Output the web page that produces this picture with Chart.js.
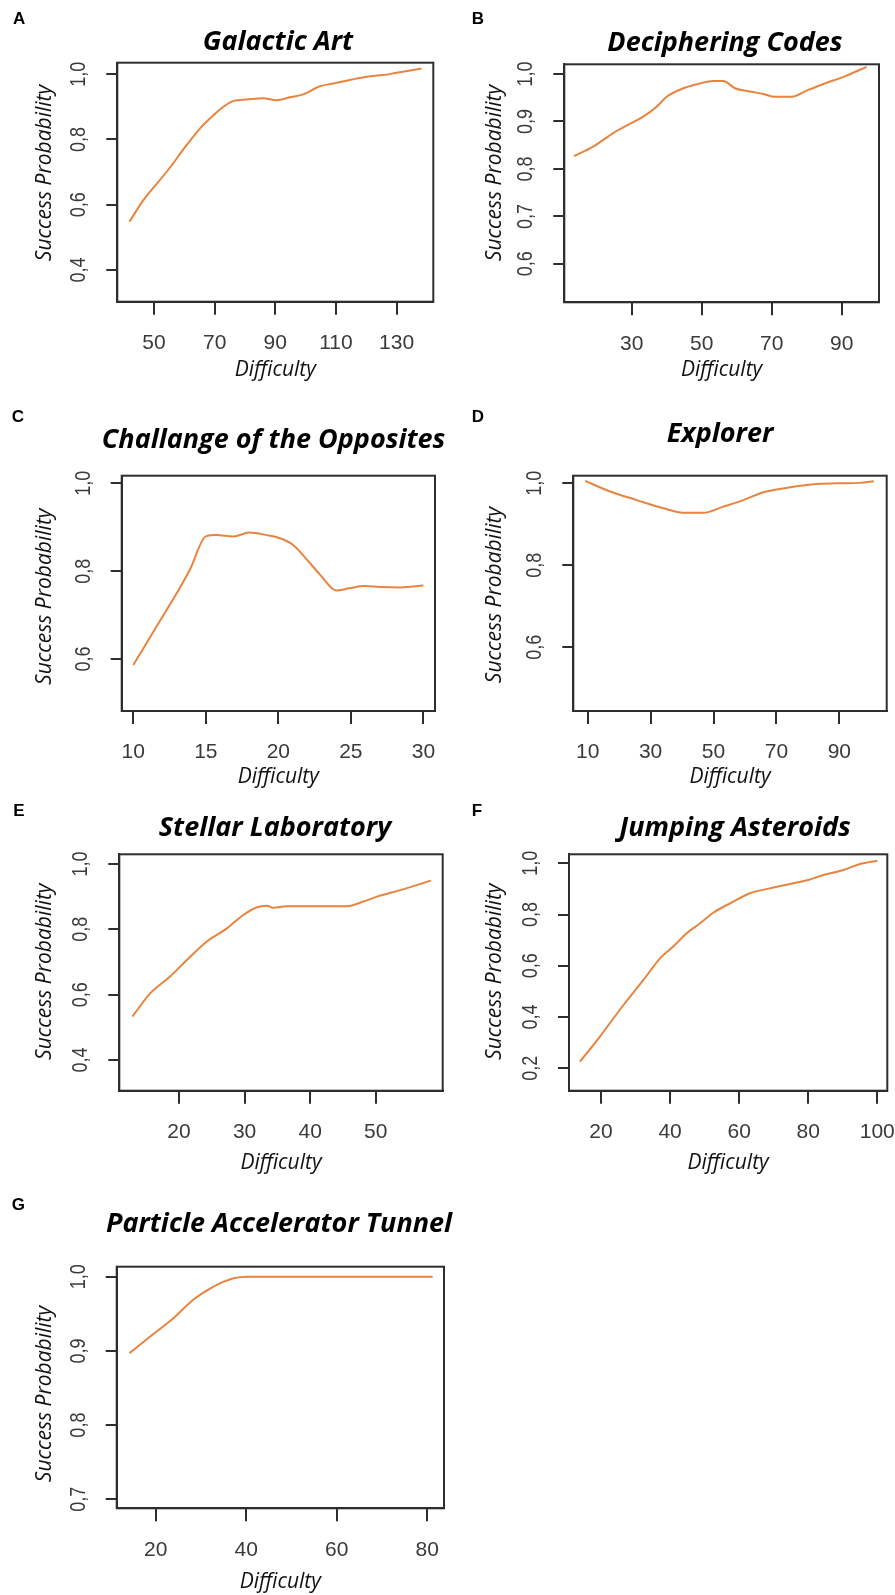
<!DOCTYPE html>
<html>
<head>
<meta charset="utf-8">
<script src="https://cdn.jsdelivr.net/npm/chart.js@4.4.1/dist/chart.umd.min.js"></script>
<style>
  html, body { margin: 0; padding: 0; background: #ffffff; }
  body { width: 895px; height: 1595px; position: relative; overflow: hidden; }
  canvas { position: absolute; }
</style>
</head>
<body>
<script>
// ---------------- DATA ----------------
const galacticDifficulty = [41.9, 46.5, 54.2, 60.8, 65.2, 69.6, 72.9, 76.2, 80.5, 86.0, 90.4, 94.8, 99.2, 104.7, 109.1, 114.6, 120.1, 125.6, 130.0, 138.2];
const galacticSuccess    = [0.548, 0.614, 0.701, 0.783, 0.834, 0.874, 0.900, 0.918, 0.922, 0.926, 0.920, 0.929, 0.938, 0.963, 0.971, 0.982, 0.992, 0.997, 1.004, 1.017];

const codesDifficulty = [13.5, 19.0, 24.8, 29.5, 33.3, 37.1, 40.0, 44.8, 49.5, 53.3, 56.2, 59.5, 63.8, 67.6, 70.9, 75.7, 80.0, 84.8, 90.5, 97.1];
const codesSuccess    = [0.827, 0.847, 0.876, 0.895, 0.910, 0.931, 0.952, 0.970, 0.980, 0.985, 0.985, 0.970, 0.963, 0.958, 0.952, 0.952, 0.965, 0.979, 0.994, 1.015];

const oppositesDifficulty = [10.0, 11.6, 13.0, 13.9, 15.0, 15.7, 16.9, 18.0, 19.2, 20.1, 21.0, 22.0, 22.9, 24.0, 24.9, 25.9, 27.0, 28.4, 30.0];
const oppositesSuccess    = [0.586, 0.674, 0.750, 0.803, 0.879, 0.882, 0.879, 0.888, 0.882, 0.875, 0.860, 0.825, 0.791, 0.756, 0.761, 0.766, 0.764, 0.763, 0.767];

const explorerDifficulty = [9.2, 17.1, 25.6, 34.1, 40.4, 46.8, 53.1, 59.5, 65.8, 70.1, 76.4, 82.8, 89.2, 96.6, 101.0];
const explorerSuccess    = [1.006, 0.980, 0.959, 0.939, 0.928, 0.928, 0.943, 0.959, 0.978, 0.985, 0.993, 0.998, 1.000, 1.001, 1.005];

const stellarDifficulty = [12.9, 15.6, 18.6, 21.2, 24.2, 27.3, 29.8, 31.8, 33.4, 34.4, 36.4, 41.0, 45.6, 48.1, 50.2, 53.7, 58.4];
const stellarSuccess    = [0.533, 0.604, 0.655, 0.706, 0.762, 0.803, 0.844, 0.867, 0.872, 0.866, 0.871, 0.871, 0.871, 0.885, 0.900, 0.920, 0.949];

const asteroidsDifficulty = [13.9, 19.7, 26.5, 32.3, 37.1, 40.9, 44.8, 48.7, 52.5, 58.3, 63.1, 68.9, 74.7, 80.0, 84.4, 90.2, 95.0, 100.0];
const asteroidsSuccess    = [0.226, 0.324, 0.447, 0.545, 0.629, 0.675, 0.727, 0.766, 0.807, 0.850, 0.883, 0.902, 0.919, 0.935, 0.954, 0.974, 0.997, 1.010];

const tunnelDifficulty = [14.2, 18.7, 23.9, 28.3, 32.0, 34.9, 37.2, 40.1, 44.5, 59.2, 81.2];
const tunnelSuccess    = [0.897, 0.919, 0.944, 0.969, 0.984, 0.993, 0.998, 1.000, 1.000, 1.000, 1.000];

// tick values and labels
const galacticXTicks = [50, 70, 90, 110, 130];
const galacticYTicks = [0.4, 0.6, 0.8, 1.0];
const galacticYLabels = ["0,4", "0,6", "0,8", "1,0"];

const codesXTicks = [30, 50, 70, 90];
const codesYTicks = [0.6, 0.7, 0.8, 0.9, 1.0];
const codesYLabels = ["0,6", "0,7", "0,8", "0,9", "1,0"];

const oppositesXTicks = [10, 15, 20, 25, 30];
const oppositesYTicks = [0.6, 0.8, 1.0];
const oppositesYLabels = ["0,6", "0,8", "1,0"];

const explorerXTicks = [10, 30, 50, 70, 90];
const explorerYTicks = [0.6, 0.8, 1.0];
const explorerYLabels = ["0,6", "0,8", "1,0"];

const stellarXTicks = [20, 30, 40, 50];
const stellarYTicks = [0.4, 0.6, 0.8, 1.0];
const stellarYLabels = ["0,4", "0,6", "0,8", "1,0"];

const asteroidsXTicks = [20, 40, 60, 80, 100];
const asteroidsYTicks = [0.2, 0.4, 0.6, 0.8, 1.0];
const asteroidsYLabels = ["0,2", "0,4", "0,6", "0,8", "1,0"];

const tunnelXTicks = [20, 40, 60, 80];
const tunnelYTicks = [0.7, 0.8, 0.9, 1.0];
const tunnelYLabels = ["0,7", "0,8", "0,9", "1,0"];

const panelTitles = ["Galactic Art", "Deciphering Codes", "Challange of the Opposites", "Explorer", "Stellar Laboratory", "Jumping Asteroids", "Particle Accelerator Tunnel"];
const panelLetters = ["A", "B", "C", "D", "E", "F", "G"];
const xAxisTitle = "Difficulty";
const yAxisTitle = "Success Probability";

// ---------------- LAYOUT / STYLE ----------------
const LINE_COLOR = '#E8843E';
const AXIS_COLOR = '#2e2e2e';
const TICK_TEXT = '#3a3a3a';
const TICK_FONT = '"Liberation Sans", Arial, sans-serif';
const TEXT_FONT = '"Open Sans", Lato, sans-serif';
const AXIS_TITLE_SIZE = 21;

const panels = [
  { xs: galacticDifficulty, ys: galacticSuccess, xt: galacticXTicks, yt: galacticYTicks, yl: galacticYLabels,
    cell: {l: 0, t: 0, r: 447, b: 390}, box: {l: 117.3, t: 62.7, r: 433.3, b: 301.7},
    xr: [37.9, 142.1], yr: [0.303, 1.035], title: [278, 42], letter: [13, 24], yTitle: [45, 173], xTitleY: 370 },
  { xs: codesDifficulty, ys: codesSuccess, xt: codesXTicks, yt: codesYTicks, yl: codesYLabels,
    cell: {l: 447, t: 0, r: 895, b: 390}, box: {l: 564.3, t: 64.3, r: 879, b: 302.3},
    xr: [10.74, 100.66], yr: [0.519, 1.0204], title: [725, 43], letter: [471.7, 24], yTitle: [495, 173], xTitleY: 370 },
  { xs: oppositesDifficulty, ys: oppositesSuccess, xt: oppositesXTicks, yt: oppositesYTicks, yl: oppositesYLabels,
    cell: {l: 0, t: 390, r: 447, b: 790}, box: {l: 121.7, t: 475.7, r: 435, b: 711},
    xr: [9.2, 30.8], yr: [0.4815, 1.0173], title: [273.6, 440], letter: [11.7, 421.7], yTitle: [45, 596.7], xTitleY: 776.7 },
  { xs: explorerDifficulty, ys: explorerSuccess, xt: explorerXTicks, yt: explorerYTicks, yl: explorerYLabels,
    cell: {l: 447, t: 390, r: 895, b: 790}, box: {l: 573.3, t: 475.7, r: 886.7, b: 711},
    xr: [5.42, 105.07], yr: [0.4446, 1.0185], title: [720, 434], letter: [471.7, 421.7], yTitle: [495, 595], xTitleY: 776.7 },
  { xs: stellarDifficulty, ys: stellarSuccess, xt: stellarXTicks, yt: stellarYTicks, yl: stellarYLabels,
    cell: {l: 0, t: 790, r: 447, b: 1180}, box: {l: 119.3, t: 854.3, r: 442.7, b: 1090.7},
    xr: [10.9, 60.2], yr: [0.306, 1.0297], title: [275, 828.3], letter: [13.3, 816], yTitle: [45, 971.7], xTitleY: 1163.3 },
  { xs: asteroidsDifficulty, ys: asteroidsSuccess, xt: asteroidsXTicks, yt: asteroidsYTicks, yl: asteroidsYLabels,
    cell: {l: 447, t: 790, r: 895, b: 1180}, box: {l: 569, t: 854.3, r: 887.3, b: 1090.7},
    xr: [10.74, 102.9], yr: [0.1126, 1.035], title: [735, 828.3], letter: [471.7, 816], yTitle: [495, 971.7], xTitleY: 1163.3 },
  { xs: tunnelDifficulty, ys: tunnelSuccess, xt: tunnelXTicks, yt: tunnelYTicks, yl: tunnelYLabels,
    cell: {l: 0, t: 1180, r: 620, b: 1595}, box: {l: 116.7, t: 1266.7, r: 444, b: 1508.3},
    xr: [11.38, 83.7], yr: [0.6879, 1.0135], title: [279, 1224], letter: [11.7, 1210], yTitle: [45, 1394], xTitleY: 1581.7 }
];

const decoPlugin = {
  id: 'panelDeco',
  afterDraw(chart, args, o) {
    const ctx = chart.ctx;
    const ca = chart.chartArea;
    const c = o.cell;
    ctx.save();
    // plot box
    ctx.strokeStyle = AXIS_COLOR;
    ctx.lineWidth = 2;
    ctx.strokeRect(ca.left, ca.top, ca.right - ca.left, ca.bottom - ca.top);
    // rotated y tick labels
    const ys = chart.scales.y;
    ctx.fillStyle = TICK_TEXT;
    ctx.font = '20px ' + TICK_FONT;
    ctx.textAlign = 'center';
    ctx.textBaseline = 'middle';
    ys.ticks.forEach((t, i) => {
      const py = ys.getPixelForValue(t.value);
      ctx.save();
      ctx.translate(ca.left - 38, py);
      ctx.rotate(-Math.PI / 2);
      ctx.scale(0.9, 1.1);
      ctx.fillText(o.yLabels[i], 0, 0);
      ctx.restore();
    });
    // y axis title
    ctx.fillStyle = '#111111';
    ctx.font = 'italic ' + AXIS_TITLE_SIZE + 'px ' + TEXT_FONT;
    ctx.save();
    ctx.translate(o.yTitle[0] - c.l, o.yTitle[1] - c.t);
    ctx.rotate(-Math.PI / 2);
    ctx.fillText(yAxisTitle, 0, 0);
    ctx.restore();
    // panel title
    ctx.fillStyle = '#000000';
    ctx.font = 'italic bold 27px ' + TEXT_FONT;
    ctx.fillText(o.title, o.titlePos[0] - c.l, o.titlePos[1] - c.t);
    // panel letter
    ctx.font = 'bold 17px ' + TICK_FONT;
    ctx.textAlign = 'left';
    ctx.textBaseline = 'alphabetic';
    ctx.fillText(o.letter, o.letterPos[0] - c.l, o.letterPos[1] - c.t);
    ctx.restore();
  }
};

panels.forEach((p, idx) => {
  const cv = document.createElement('canvas');
  const w = p.cell.r - p.cell.l, h = p.cell.b - p.cell.t;
  cv.width = w; cv.height = h;
  cv.style.left = p.cell.l + 'px';
  cv.style.top = p.cell.t + 'px';
  cv.style.width = w + 'px';
  cv.style.height = h + 'px';
  document.body.appendChild(cv);

  const yScaleWidth = p.box.l - p.cell.l;
  const xScaleHeight = p.cell.b - p.box.b;
  const xTitleLH = AXIS_TITLE_SIZE * 1.2;

  new Chart(cv, {
    type: 'line',
    data: {
      datasets: [{
        data: p.xs.map((x, i) => ({ x: x, y: p.ys[i] })),
        borderColor: LINE_COLOR,
        borderWidth: 2,
        pointRadius: 0,
        cubicInterpolationMode: 'monotone',
        fill: false
      }]
    },
    options: {
      responsive: false,
      animation: false,
      devicePixelRatio: 1,
      layout: { padding: { top: p.box.t - p.cell.t, right: p.cell.r - p.box.r, left: 0, bottom: 0 } },
      plugins: {
        legend: { display: false },
        tooltip: { enabled: false },
        title: { display: false },
        panelDeco: {
          cell: p.cell, yLabels: p.yl, yTitle: p.yTitle, title: panelTitles[idx], titlePos: p.title,
          letter: panelLetters[idx], letterPos: p.letter
        }
      },
      scales: {
        x: {
          type: 'linear',
          min: p.xr[0], max: p.xr[1],
          afterBuildTicks: s => { s.ticks = p.xt.map(v => ({ value: v })); },
          afterFit: s => { s.height = xScaleHeight; s.paddingLeft = 0; s.paddingRight = 0; },
          grid: { drawOnChartArea: false, drawTicks: true, tickLength: 13, color: AXIS_COLOR, lineWidth: 2 },
          border: { display: true, color: AXIS_COLOR, width: 2 },
          ticks: {
            autoSkip: false, maxRotation: 0, minRotation: 0, padding: 16,
            color: TICK_TEXT, font: { family: TICK_FONT, size: 21 },
            callback: (v) => String(v)
          },
          title: {
            display: true, text: xAxisTitle, color: '#111111',
            font: { family: TEXT_FONT, size: AXIS_TITLE_SIZE, style: 'italic' },
            padding: { top: 0, bottom: (p.cell.b - p.xTitleY) - xTitleLH / 2 }
          }
        },
        y: {
          type: 'linear',
          min: p.yr[0], max: p.yr[1],
          afterBuildTicks: s => { s.ticks = p.yt.map(v => ({ value: v })); },
          afterFit: s => { s.width = yScaleWidth; s.paddingTop = 0; s.paddingBottom = 0; },
          grid: { drawOnChartArea: false, drawTicks: true, tickLength: 11, color: AXIS_COLOR, lineWidth: 2 },
          border: { display: true, color: AXIS_COLOR, width: 2 },
          ticks: { display: false },
          title: { display: false }
        }
      }
    },
    plugins: [decoPlugin]
  });
});
</script>
</body>
</html>
